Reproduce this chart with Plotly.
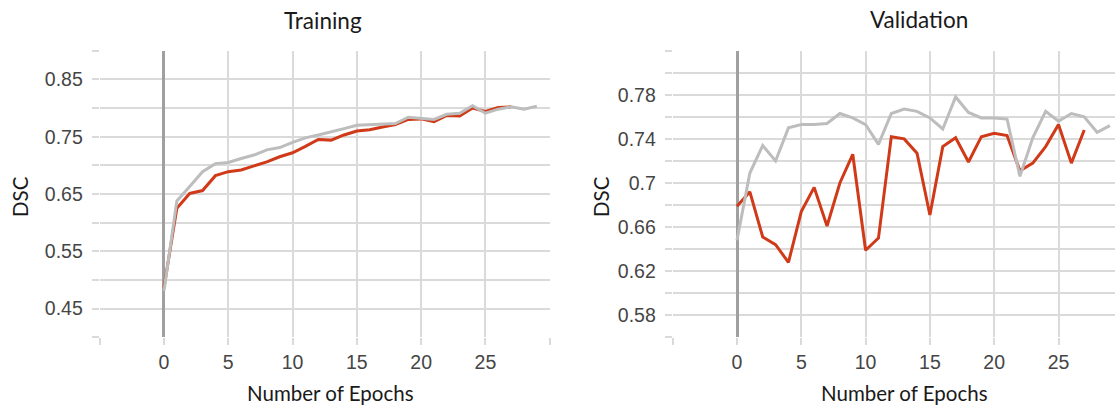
import plotly.graph_objects as go

# ---------------- data ----------------
train_epochs_red = list(range(0, 28))
train_red = [0.487, 0.625, 0.651, 0.656, 0.682, 0.689, 0.692, 0.699, 0.706, 0.715,
             0.722, 0.733, 0.745, 0.744, 0.753, 0.760, 0.762, 0.767, 0.771, 0.780,
             0.781, 0.776, 0.787, 0.786, 0.800, 0.794, 0.801, 0.802]
train_epochs_gray = list(range(0, 30))
train_gray = [0.481, 0.638, 0.663, 0.689, 0.703, 0.705, 0.712, 0.718, 0.727, 0.731,
              0.740, 0.748, 0.753, 0.758, 0.764, 0.770, 0.771, 0.772, 0.773, 0.784,
              0.782, 0.780, 0.789, 0.791, 0.804, 0.791, 0.798, 0.802, 0.798, 0.803]

val_epochs_red = list(range(0, 28))
val_red = [0.679, 0.692, 0.651, 0.644, 0.628, 0.674, 0.696, 0.661, 0.700, 0.726,
           0.639, 0.650, 0.742, 0.740, 0.727, 0.671, 0.733, 0.741, 0.719, 0.742,
           0.745, 0.743, 0.711, 0.718, 0.733, 0.753, 0.718, 0.748]
val_epochs_gray = list(range(0, 30))
val_gray = [0.648, 0.709, 0.734, 0.720, 0.750, 0.753, 0.753, 0.754, 0.763, 0.759,
            0.753, 0.735, 0.763, 0.767, 0.765, 0.759, 0.749, 0.778, 0.764, 0.759,
            0.759, 0.758, 0.706, 0.741, 0.765, 0.756, 0.763, 0.760, 0.746, 0.752]

x_tickvals = [-5, 0, 5, 10, 15, 20, 25, 30]
x_ticktext = ["", "0", "5", "10", "15", "20", "25", ""]

train_y_tickvals = [0.40, 0.45, 0.50, 0.55, 0.60, 0.65, 0.70, 0.75, 0.80, 0.85, 0.90]
train_y_ticktext = ["", "0.45", "", "0.55", "", "0.65", "", "0.75", "", "0.85", ""]

val_y_tickvals = [0.56, 0.58, 0.60, 0.62, 0.64, 0.66, 0.68, 0.70, 0.72, 0.74, 0.76, 0.78, 0.80, 0.82]
val_y_ticktext = ["", "0.58", "", "0.62", "", "0.66", "", "0.7", "", "0.74", "", "0.78", "", ""]

titles = ["Training", "Validation"]
x_title = "Number of Epochs"
y_title = "DSC"

# ---------------- style ----------------
W, H = 1115, 406
RED = "#d03a18"
GRAY = "#bdbdbd"
GRID = "#dadada"
ZERO = "#a0a0a0"
TICKFONT = dict(family="Liberation Sans, Arial, sans-serif", size=19.5, color="#454545")
TITLEFONT = "Lato, Open Sans, sans-serif"

def px_x(p):
    return p / W

def px_y(p):
    return 1 - p / H

fig = go.Figure()

fig.add_trace(go.Scatter(x=train_epochs_red, y=train_red, mode="lines",
                         line=dict(color=RED, width=3), xaxis="x", yaxis="y",
                         showlegend=False, hoverinfo="skip"))
fig.add_trace(go.Scatter(x=train_epochs_gray, y=train_gray, mode="lines",
                         line=dict(color=GRAY, width=3), xaxis="x", yaxis="y",
                         showlegend=False, hoverinfo="skip"))
fig.add_trace(go.Scatter(x=val_epochs_red, y=val_red, mode="lines",
                         line=dict(color=RED, width=3), xaxis="x2", yaxis="y2",
                         showlegend=False, hoverinfo="skip"))
fig.add_trace(go.Scatter(x=val_epochs_gray, y=val_gray, mode="lines",
                         line=dict(color=GRAY, width=3), xaxis="x2", yaxis="y2",
                         showlegend=False, hoverinfo="skip"))

ydom = [px_y(337.3), px_y(50.7)]

common_x = dict(tickmode="array", tickvals=x_tickvals, ticktext=x_ticktext,
                showgrid=True, gridcolor=GRID, gridwidth=2,
                zeroline=True, zerolinecolor=ZERO, zerolinewidth=3,
                ticks="outside", ticklen=7, tickcolor=GRID, tickwidth=2,
                tickfont=TICKFONT, showline=False, automargin=False,
                fixedrange=True)
common_y = dict(tickmode="array", showgrid=True, gridcolor=GRID, gridwidth=2,
                zeroline=False, ticks="outside", ticklen=7, tickcolor=GRID,
                tickwidth=2, tickfont=TICKFONT, showline=False,
                ticklabelstandoff=5, automargin=False, fixedrange=True)

fig.update_layout(
    width=W, height=H,
    margin=dict(l=0, r=0, t=0, b=0),
    paper_bgcolor="white", plot_bgcolor="white",
    xaxis=dict(common_x, domain=[px_x(99.7), px_x(549.7)], range=[-5, 30],
               anchor="y"),
    yaxis=dict(common_y, domain=ydom, range=[0.40, 0.90],
               tickvals=train_y_tickvals, ticktext=train_y_ticktext, anchor="x"),
    xaxis2=dict(common_x, domain=[px_x(672.7), 1.0],
                range=[-5, -5 + (W - 672.7) / 12.86], anchor="y2"),
    yaxis2=dict(common_y, domain=ydom, range=[0.56, 0.82],
                tickvals=val_y_tickvals, ticktext=val_y_ticktext, anchor="x2"),
)

ann = []
def add_text(text, x, y, size, angle=0):
    ann.append(dict(text=text, x=px_x(x), y=px_y(y), xref="paper", yref="paper",
                    xanchor="center", yanchor="middle", showarrow=False,
                    textangle=angle,
                    font=dict(family=TITLEFONT, size=size, color="#1a1a1a")))

add_text(titles[0], 323, 20, 22.5)
add_text(titles[1], 919, 19, 22.5)
add_text(x_title, 330, 393, 20.5)
add_text(x_title, 904, 393, 20.5)
add_text(y_title, 20, 197, 20.5, -90)
add_text(y_title, 601, 197, 20.5, -90)
fig.update_layout(annotations=ann)

fig.write_html(
    "out.html",
    config={"displayModeBar": False, "staticPlot": True},
    post_script="document.body.style.margin='0';document.body.style.padding='0';"
                "document.body.style.overflow='hidden';",
)
